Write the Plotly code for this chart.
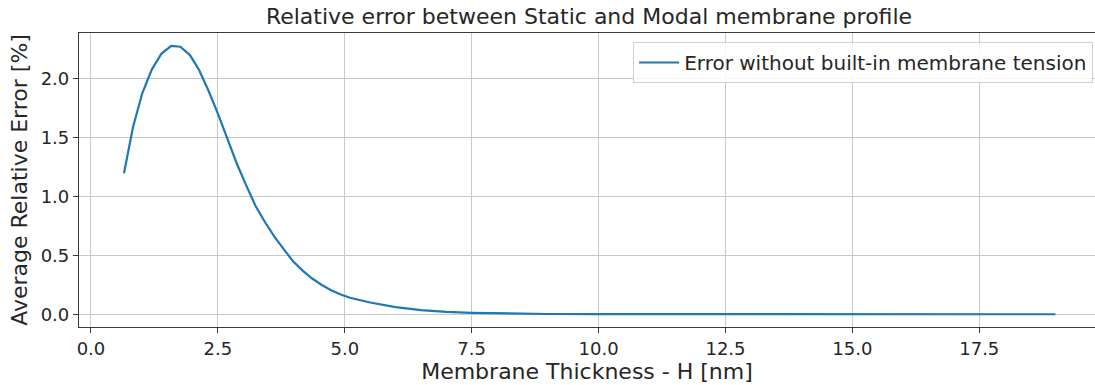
import plotly.graph_objects as go

# Membrane thickness H [nm] and average relative error [%]
thickness_nm = [0.65, 0.83, 1.01, 1.20, 1.39, 1.58, 1.76, 1.95, 2.13, 2.32,
                2.50, 2.69, 2.87, 3.06, 3.24, 3.43, 3.61, 3.80, 3.98, 4.17,
                4.35, 4.54, 4.72, 4.91, 5.10, 5.50, 6.00, 6.50, 7.00, 7.50,
                8.00, 9.00, 10.0, 12.0, 14.0, 16.0, 18.0, 19.0]
avg_rel_error = [1.195, 1.59, 1.873, 2.076, 2.21, 2.275, 2.268, 2.197, 2.07, 1.89,
                 1.70, 1.48, 1.28, 1.09, 0.92, 0.78, 0.66, 0.55, 0.45, 0.37,
                 0.305, 0.25, 0.206, 0.17, 0.14, 0.10, 0.06, 0.035, 0.02, 0.012,
                 0.007, 0.002, 0.001, 0.0, 0.0, 0.0, 0.0, 0.0]

x_ticks = [0.0, 2.5, 5.0, 7.5, 10.0, 12.5, 15.0, 17.5]
y_ticks = [0.0, 0.5, 1.0, 1.5, 2.0]

FONT = "DejaVu Sans"
TEXT = "#262626"
SPINE = "#3a3a3a"
GRID = "#c8c8c8"

fig = go.Figure()
fig.add_trace(go.Scatter(
    x=thickness_nm, y=avg_rel_error, mode="lines",
    name="Error without built-in membrane tension",
    line=dict(color="#1f77b4", width=2.2),
))

fig.update_layout(
    width=1095, height=385,
    margin=dict(l=79, r=0, t=33, b=58),
    paper_bgcolor="white", plot_bgcolor="white",
    font=dict(family=FONT, color=TEXT, size=18),
    title=dict(text="Relative error between Static and Modal membrane profile",
               x=589 / 1095, xanchor="center",
               y=1 - 16 / 385, yanchor="middle",
               font=dict(size=22, family=FONT, color=TEXT)),
    showlegend=True,
    legend=dict(x=1 - 2 / 1095, xanchor="right", y=1 - 9 / 294, yanchor="top",
                bgcolor="rgba(255,255,255,0.85)", bordercolor="#d0d0d0",
                borderwidth=1, font=dict(size=20, family=FONT, color=TEXT),
                itemwidth=40),
)

fig.update_xaxes(
    range=[-0.236, 19.78], tickvals=x_ticks,
    ticktext=[f"{v:.1f}" for v in x_ticks],
    showgrid=True, gridcolor=GRID, gridwidth=1, zeroline=False,
    showline=True, linecolor=SPINE, linewidth=1.2, mirror=True,
    ticks="outside", ticklen=5, tickcolor=SPINE, tickwidth=1,
    tickfont=dict(size=18, family=FONT, color=TEXT),
    title=dict(text="Membrane Thickness - H [nm]", standoff=2,
               font=dict(size=22, family=FONT, color=TEXT)),
)
fig.update_yaxes(
    range=[-0.108, 2.384], tickvals=y_ticks,
    ticktext=[f"{v:.1f}" for v in y_ticks],
    showgrid=True, gridcolor=GRID, gridwidth=1, zeroline=False,
    showline=True, linecolor=SPINE, linewidth=1.2, mirror=False,
    ticks="outside", ticklen=5, tickcolor=SPINE, tickwidth=1,
    tickfont=dict(size=18, family=FONT, color=TEXT),
    title=dict(text="Average Relative Error [%]", standoff=6,
               font=dict(size=22, family=FONT, color=TEXT)),
)

fig.write_html("out.html")
